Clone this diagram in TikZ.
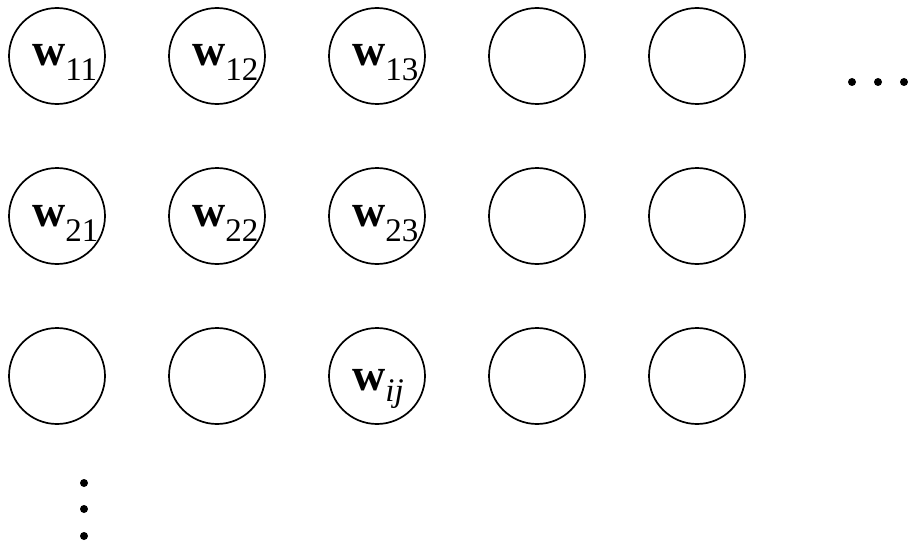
\documentclass[tikz,border=0pt]{standalone}
\usepackage{fontspec}
\setmainfont{Liberation Serif}
% bold weight letter with a large subscript
\newcommand\wsub[2][-15pt]{{\fontsize{46}{46}\selectfont\textbf{w}}\raisebox{#1}{\fontsize{33}{33}\selectfont #2}}
\begin{document}
\begin{tikzpicture}[x=1pt,y=-1pt,
  unit/.style={draw, circle, line width=1.7pt, minimum size=96pt, inner sep=0pt},
  wlab/.style={anchor=base west, inner sep=0pt},
  dot/.style={fill=black, circle, minimum size=8pt, inner sep=0pt}]
\useasboundingbox (0,0) rectangle (908,543);
% grid of units
\foreach \r/\y in {1/56,2/216,3/376}
  \foreach \c/\x in {1/57,2/217,3/377,4/537,5/697}
    \node[unit] (c\r\c) at (\x,\y) {};
% weight labels
\path (c11.center) ++(-25,10) node[wlab] (w11) {\wsub{11}};
\path (c12.center) ++(-25,10) node[wlab] (w12) {\wsub{12}};
\path (c13.center) ++(-25,10) node[wlab] (w13) {\wsub{13}};
\path (c21.center) ++(-25,10) node[wlab] (w21) {\wsub{21}};
\path (c22.center) ++(-25,10) node[wlab] (w22) {\wsub{22}};
\path (c23.center) ++(-25,10) node[wlab] (w23) {\wsub{23}};
\path (c33.center) ++(-25,14) node[wlab] (wij) {\wsub[-11pt]{\textit{ij}}};
% continuation dots
\node[dot] (h1) at (852,82) {};
\node[dot] (h2) at (878,82) {};
\node[dot] (h3) at (904,82) {};
\node[dot] (v1) at (84,483) {};
\node[dot] (v2) at (84,509) {};
\node[dot] (v3) at (84,536) {};
\end{tikzpicture}
\end{document}
